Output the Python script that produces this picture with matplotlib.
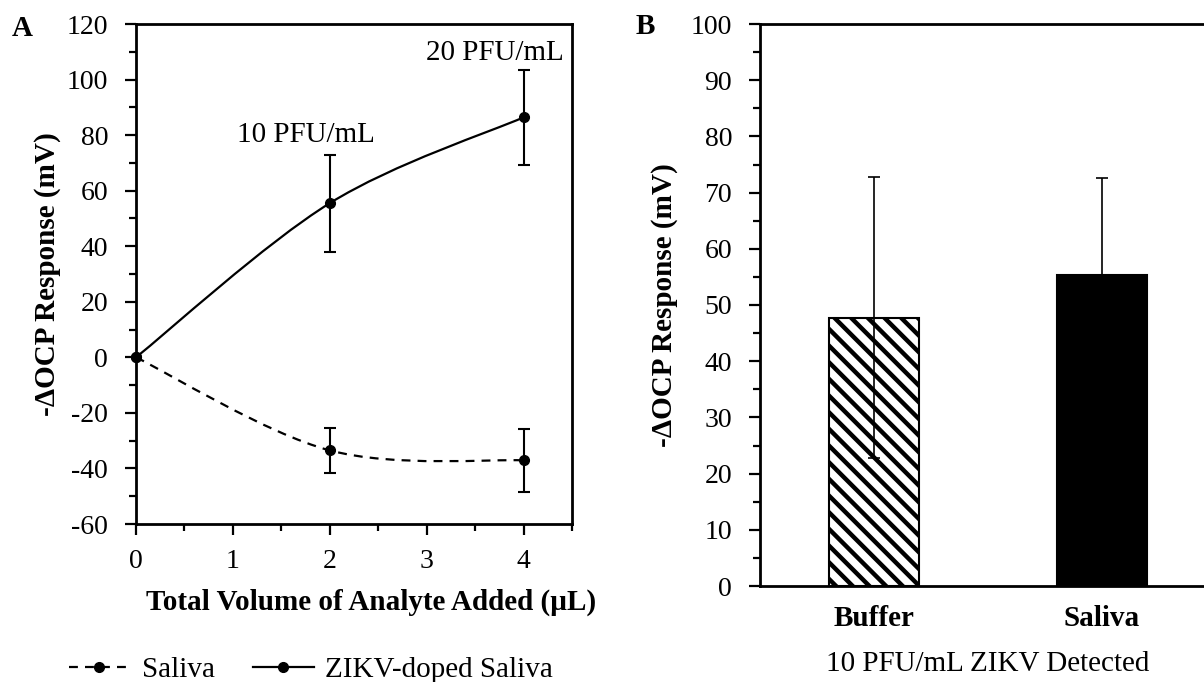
import numpy as np
import matplotlib
matplotlib.use("Agg")
import matplotlib.pyplot as plt
from matplotlib.path import Path
from matplotlib.patches import PathPatch
from matplotlib.lines import Line2D
from matplotlib.ticker import MultipleLocator

plt.rcParams["font.family"] = ["Liberation Serif", "DejaVu Serif"]
plt.rcParams["font.size"] = 21
plt.rcParams["xtick.labelsize"] = 20
plt.rcParams["ytick.labelsize"] = 20
plt.rcParams["axes.unicode_minus"] = False
plt.rcParams["hatch.linewidth"] = 3.2

# panel A: OCP response vs. volume of analyte added
volume = [0, 2, 4]
saliva_mean = [0, -33.5, -37.1]
saliva_err = [0, 8.0, 11.2]
zikv_mean = [0, 55.5, 86.4]
zikv_err = [0, 17.4, 17.0]
conc_labels = ["10 PFU/mL", "20 PFU/mL"]

# panel B: detection of 10 PFU/mL ZIKV
matrices = ["Buffer", "Saliva"]
detect_mean = [47.7, 55.3]
detect_err = [25.0, 17.3]


def smooth_path(x, y):
    # smoothed line through the points (catmull-rom style bezier segments)
    pts = np.column_stack([x, y]).astype(float)
    ext = np.vstack([pts[0], pts, pts[-1]])
    verts = [pts[0]]
    codes = [Path.MOVETO]
    for i in range(len(pts) - 1):
        p0, p1, p2, p3 = ext[i], ext[i + 1], ext[i + 2], ext[i + 3]
        c1 = p1 + (p2 - p0) / 6.0
        c2 = p2 - (p3 - p1) / 6.0
        verts += [c1, c2, p2]
        codes += [Path.CURVE4] * 3
    return Path(verts, codes)


fig = plt.figure(figsize=(12.04, 6.82), dpi=100)

# ---------------- A ----------------
ax1 = fig.add_axes([136 / 1204, 158 / 682, 436 / 1204, 500 / 682])
ax1.set_xlim(0, 4.5)
ax1.set_ylim(-60, 120)

ax1.add_patch(PathPatch(smooth_path(volume, saliva_mean), fill=False,
                        lw=1.6, ls=(0, (4, 3.2)), ec="black"))
ax1.add_patch(PathPatch(smooth_path(volume, zikv_mean), fill=False,
                        lw=1.6, ec="black"))
for mean, err in [(saliva_mean, saliva_err), (zikv_mean, zikv_err)]:
    eb = ax1.errorbar(volume, mean, yerr=err, fmt="o", ms=7, color="black",
                      elinewidth=1.5, capsize=4.3, capthick=1.5)
    eb[0].set_clip_on(False)

ax1.text(1.75, 80, conc_labels[0], ha="center", va="center")
ax1.text(3.70, 109.5, conc_labels[1], ha="center", va="center")

ax1.xaxis.set_major_locator(MultipleLocator(1))
ax1.xaxis.set_minor_locator(MultipleLocator(0.5))
ax1.yaxis.set_major_locator(MultipleLocator(20))
ax1.yaxis.set_minor_locator(MultipleLocator(10))
ax1.tick_params(which="major", direction="out", length=8, width=1.6, pad=10)
ax1.tick_params(which="minor", direction="out", length=5, width=1.6)
ax1.tick_params(axis="y", which="major", pad=12)
for s in ax1.spines.values():
    s.set_linewidth(2)

ax1.set_xlabel("Total Volume of Analyte Added (\u00b5L)", fontweight="bold")
ax1.xaxis.set_label_coords(0.539, -0.13)
ax1.set_ylabel("-\u0394OCP Response (mV)", fontweight="bold")
ax1.yaxis.set_label_coords(-0.172, 0.5)

handles = [
    Line2D([], [], color="black", lw=1.6, ls=(0, (4, 3.2)), marker="o", ms=7),
    Line2D([], [], color="black", lw=1.6, marker="o", ms=7),
]
fig.legend(handles, ["Saliva", "ZIKV-doped Saliva"], loc="center",
           bbox_to_anchor=(311 / 1204, 1 - 670 / 682), ncol=2, frameon=False,
           handlelength=2.1, handletextpad=0.4, columnspacing=1.3,
           borderpad=0)

fig.text(22 / 1204, 1 - 28 / 682, "A", fontweight="bold", ha="center", va="center")

# ---------------- B ----------------
ax2 = fig.add_axes([760 / 1204, 96 / 682, 456 / 1204, 562 / 682])
xpos = np.arange(len(matrices))
ax2.bar(xpos[0], detect_mean[0], width=0.395, color="white", edgecolor="black",
        lw=1.5, hatch="\\\\")
ax2.bar(xpos[1], detect_mean[1], width=0.395, color="black", edgecolor="black", lw=1.5)
ax2.errorbar(xpos, detect_mean, yerr=detect_err, fmt="none", ecolor="black",
             elinewidth=1.2, capsize=4.3, capthick=1.2)
ax2.set_xlim(-0.5, 1.5)
ax2.set_ylim(0, 100)
ax2.set_xticks(xpos)
ax2.set_xticklabels(matrices, fontweight="bold", fontsize=21)
ax2.yaxis.set_major_locator(MultipleLocator(10))
ax2.yaxis.set_minor_locator(MultipleLocator(5))
ax2.tick_params(axis="x", length=0, pad=14)
ax2.tick_params(axis="y", which="major", direction="out", length=8, width=1.6, pad=12)
ax2.tick_params(axis="y", which="minor", direction="out", length=5, width=1.6)
for s in ax2.spines.values():
    s.set_linewidth(2)
ax2.set_ylabel("-\u0394OCP Response (mV)", fontweight="bold")
ax2.yaxis.set_label_coords(-0.18, 0.5)
ax2.set_xlabel("10 PFU/mL ZIKV Detected")
ax2.xaxis.set_label_coords(0.5, -0.115)

fig.text(645 / 1204, 1 - 27 / 682, "B", fontweight="bold", ha="center", va="center")

fig.savefig("out.png", dpi=100)
